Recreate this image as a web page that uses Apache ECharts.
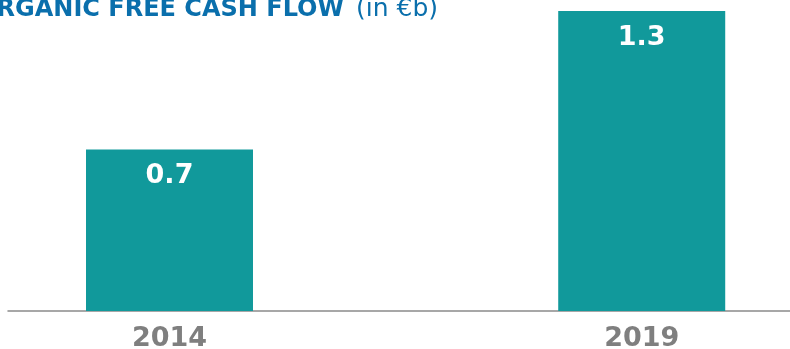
<!DOCTYPE html>
<html>
<head>
<meta charset="utf-8">
<script src="https://cdn.jsdelivr.net/npm/echarts@6/dist/echarts.min.js"></script>
<style>
  html, body { margin: 0; padding: 0; background: #fff; }
  #chart { width: 790px; height: 349px; }
</style>
</head>
<body>
<div id="chart"></div>
<script>
// Organic free cash flow, in billions of euros
const years = [2014, 2019];
const cashFlow = [0.7, 1.3];

const chart = echarts.init(document.getElementById('chart'));

const font = 'DejaVu Sans';

chart.setOption({
  animation: false,
  graphic: [{
    type: 'text',
    right: 790 - 438,
    top: -3,
    style: {
      text: '{b|ORGANIC FREE CASH FLOW}{n|(in €b)}',
      rich: {
        b: { fontFamily: font, fontWeight: 'bold', fontSize: 24, fill: '#0a6fac' },
        n: { fontFamily: font, fontWeight: 'normal', fontSize: 25, fill: '#0a6fac', padding: [0, 0, 0, 12] }
      }
    }
  }],
  grid: { left: 8, right: 0, top: 11, bottom: 38, containLabel: false, outerBoundsMode: 'none' },
  xAxis: {
    type: 'value',
    min: 2012.29,
    max: 2020.57,
    splitLine: { show: false },
    axisTick: { show: false },
    axisLine: { show: true, lineStyle: { color: '#8a8a8a', width: 1.5 } },
    axisLabel: {
      customValues: years,
      margin: 14,
      color: '#7f7f7f',
      fontFamily: font,
      fontWeight: 'bold',
      fontSize: 27,
      formatter: v => String(v)
    }
  },
  yAxis: {
    type: 'value',
    min: 0,
    max: 1.3,
    show: false
  },
  series: [{
    type: 'bar',
    barWidth: 167,
    data: years.map((y, i) => [y, cashFlow[i]]),
    itemStyle: { color: '#11999b' },
    label: {
      show: true,
      position: 'insideTop',
      distance: 13,
      color: '#ffffff',
      fontFamily: font,
      fontWeight: 'bold',
      fontSize: 27,
      formatter: p => p.value[1].toFixed(1)
    }
  }]
});
</script>
</body>
</html>
